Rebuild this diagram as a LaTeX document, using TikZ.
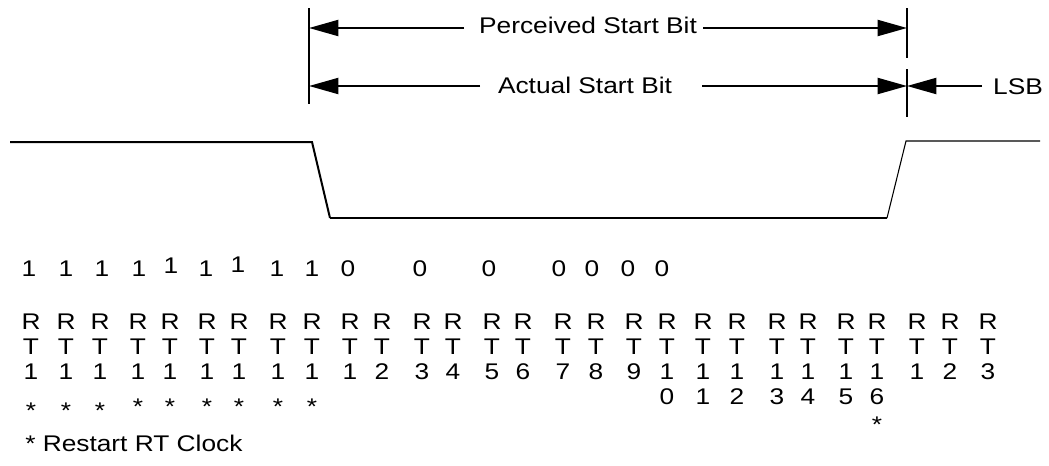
\documentclass[tikz,border=0pt]{standalone}
\usepackage{fontspec}
\setmainfont[FakeStretch=1.16]{Liberation Sans}
\usetikzlibrary{arrows.meta, positioning}

\begin{document}
\begin{tikzpicture}[
  x=0.75pt, y=-0.75pt,
  every node/.style = {font=\fontsize{17}{20}\selectfont, inner sep=0pt,
                       anchor=base},
  arr/.style  = {-{Triangle[length=22pt, width=12pt]}, line width=1.5pt},
  bnd/.style  = {line width=1.5pt},
  wave/.style = {line width=#1, line join=miter},
]

\useasboundingbox (0,0) rectangle (1049,465);

%% ══ Bit boundaries ═════════════════════════════════════════════════════
\coordinate (sTop) at (309,8);
\coordinate (sBot) at (309,104);
\coordinate (pTop) at (907,8);
\coordinate (pBot) at (907,58);
\coordinate (aTop) at (907,69);
\coordinate (aBot) at (907,117);

\draw[bnd] (sTop) -- (sBot);
\draw[bnd] (pTop) -- (pBot);
\draw[bnd] (aTop) -- (aBot);

%% ── Perceived start bit ──────────────────────────────────────────────────
\node at (588,33) (perc) {Perceived Start Bit};
\coordinate (percL) at (464,28);
\coordinate (percR) at (703,28);
\draw[arr] (percL) -- (percL -| sTop);
\draw[arr] (percR) -- (percR -| pTop);

%% ── Actual start bit ─────────────────────────────────────────────────────
\node at (585,93) (act) {Actual Start Bit};
\coordinate (actL) at (480,86);
\coordinate (actR) at (702,86);
\draw[arr] (actL) -- (actL -| sTop);
\draw[arr] (actR) -- (actR -| aTop);

%% ── LSB ──────────────────────────────────────────────────────────────────
\node at (1018,94) (lsb) {LSB};
\coordinate (lsbL) at (982,86);
\draw[arr] (lsbL) -- (lsbL -| aTop);

%% ══ RxD waveform ═══════════════════════════════════════════════════════
\coordinate (h0) at (10,142);
\coordinate (h1) at (312,142);
\coordinate (l0) at (330,218);
\coordinate (l1) at (887,218);
\coordinate (h2) at (906,141);
\coordinate (h3) at (1040,141);

\draw[wave=1.5pt] (h0) -- (h1) -- (l0);
\draw[wave=1pt]   (l0) -- (l1);
\draw[wave=0.8pt] (l1) -- (h2) -- (h3);

%% ══ Samples ════════════════════════════════════════════════════════════
\foreach \x/\b/\dy [count=\i] in {29/1/0, 66/1/0, 102/1/0, 139/1/0, 171/1/-3,
    206/1/0, 238/1/-4, 277/1/0, 312/1/0, 348/0/0, 420/0/0, 489/0/0,
    559/0/0, 592/0/0, 628/0/0, 662/0/0}
  \node at (\x,276+\dy) (b\i) {\b};

%% ══ RT clock ═══════════════════════════════════════════════════════════
\foreach \x/\n [count=\i] in {31/1, 66/1, 100/1, 138/1, 170/1, 207/1, 239/1,
    278/1, 312/1, 350/1, 382/2, 422/3, 453/4, 492/5, 523/6, 563/7, 596/8,
    634/9, 667/1, 703/1, 737/1, 777/1, 808/1, 846/1, 877/1, 917/1, 950/2,
    988/3} {
  \node at (\x,329) (r\i) {R};
  \node at (\x,354) (t\i) {T};
  \node at (\x,379) (n\i) {\n};
}

% second digit of RT10 .. RT16
\foreach \i/\d in {19/0, 20/1, 21/2, 22/3, 23/4, 24/5, 25/6}
  \node at (n\i |- 0,404) (m\i) {\d};

% restart marks
\foreach \i/\y in {1/418, 2/418, 3/418, 4/414, 5/414, 6/414, 7/414, 8/414,
    9/414, 25/432}
  \node at (n\i |- 0,\y) (st\i) {*};

\node[anchor=base west] at (25,451) (note) {* Restart RT Clock};

\end{tikzpicture}
\end{document}
